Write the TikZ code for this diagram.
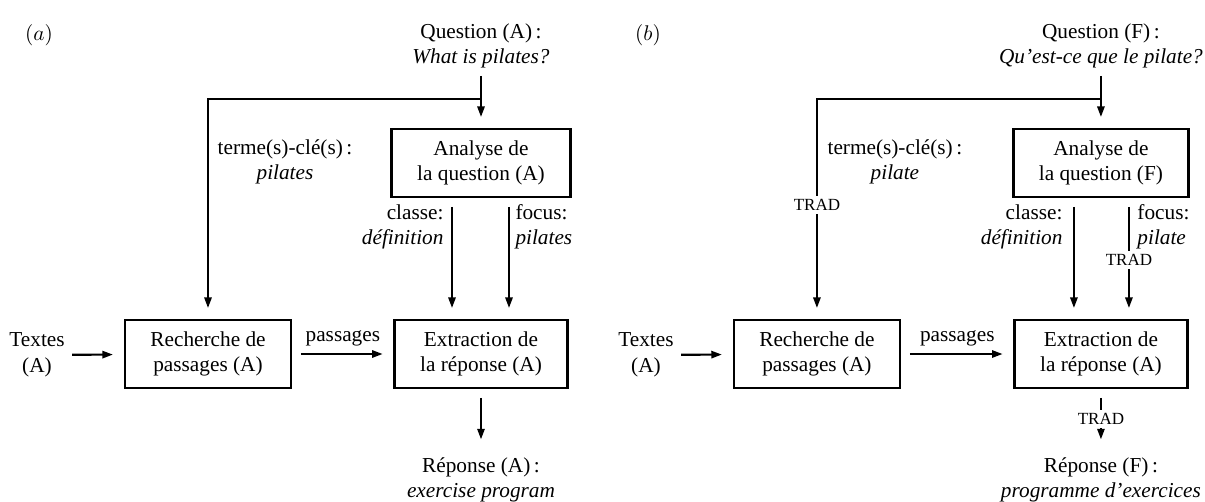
\documentclass[tikz,border=0pt]{standalone}
\usepackage{fontspec}
\setmainfont{Liberation Serif}
\usetikzlibrary{arrows.meta,calc}

\tikzset{
  box/.style={draw, line width=1.2pt, align=center, inner xsep=12pt, inner ysep=5pt, minimum height=32pt},
  lbl/.style={align=center},
  arr/.style={line width=1pt, -{Triangle[length=5pt,width=3.4pt]}, shorten >=5pt},
  ln/.style={line width=1pt},
  trad/.style={font=\footnotesize, inner sep=1.5pt},
}

\begin{document}
\begin{tikzpicture}[x=0.47pt, y=-0.47pt]
	\useasboundingbox (0,0) rectangle (1205,502);

	% (a) English question
	\node (la) at (39,35) {$(a)$};
	\node[lbl] (qa) at (481,46) {Question (A)\,:\\ \textit{What is pilates?}};
	\coordinate (ja) at (481,99);
	\node[box] (ana) at (481,163) {Analyse de\\la question (A)};
	\node[lbl] (ta) at (285,162) {terme(s)-clé(s)\,:\\ \textit{pilates}};
	\node[align=right, anchor=east] (ca) at (451,227) {classe:\\ \textit{définition}};
	\node[align=left, anchor=west] (fa) at (508,227) {focus:\\ \textit{pilates}};
	\node[lbl] (txa) at (37,355) {Textes\\(A)};
	\node[box] (rea) at (208,354) {Recherche de\\passages (A)};
	\node[box] (exa) at (481,354) {Extraction de\\la réponse (A)};
	\node[lbl] (rpa) at (481,480) {Réponse (A)\,:\\ \textit{exercise program}};
	\coordinate (cxa) at (452,0);
	\coordinate (fxa) at (509,0);

	\draw[arr] (qa) -- (ana);
	\draw[arr] (ja) -| (rea);
	\draw[arr, shorten <=4pt] (ana.south -| cxa) -- (exa.north -| cxa);
	\draw[arr, shorten <=4pt] (ana.south -| fxa) -- (exa.north -| fxa);
	\draw[arr] (txa) -- (rea);
	\draw[arr, shorten <=4pt] (rea) -- node[above] {passages} (exa);
	\draw[arr, shorten <=4pt] (exa) -- (rpa);

	% (b) French question, translated
	\begin{scope}[xshift=286.2pt]
	\node (lb) at (39,35) {$(b)$};
	\node[lbl] (qb) at (492,46) {Question (F)\,:\\ \textit{Qu'est-ce que le pilate?}};
	\coordinate (jb) at (492,99);
	\node[box] (anb) at (492,163) {Analyse de\\la question (F)};
	\node[lbl] (tb) at (286,162) {terme(s)-clé(s)\,:\\ \textit{pilate}};
	\node[align=right, anchor=east] (cb) at (461,227) {classe:\\ \textit{définition}};
	\node[align=left, anchor=west] (fb) at (521,227) {focus:\\ \textit{pilate}};
	\node[trad] (trk) at (208,205) {TRAD};
	\node[trad] (trf) at (520,260) {TRAD};
	\node[lbl] (txb) at (37,355) {Textes\\(A)};
	\node[box] (reb) at (208,354) {Recherche de\\passages (A)};
	\node[box] (exb) at (492,354) {Extraction de\\la réponse (A)};
	\node[trad] (trr) at (492,419) {TRAD};
	\node[lbl] (rpb) at (492,480) {Réponse (F)\,:\\ \textit{programme d'exercices}};
	\coordinate (cxb) at (465,0);

	\draw[arr] (qb) -- (anb);
	\draw[ln] (jb) -| (trk);
	\draw[arr] (trk) -- (reb);
	\draw[arr, shorten <=4pt] (anb.south -| cxb) -- (exb.north -| cxb);
	\draw[ln, shorten <=4pt] (anb.south -| trf) -- (trf);
	\draw[arr] (trf) -- (exb.north -| trf);
	\draw[arr] (txb) -- (reb);
	\draw[arr, shorten <=4pt] (reb) -- node[above] {passages} (exb);
	\draw[ln, shorten <=4pt] (exb) -- (trr);
	\draw[arr] (trr) -- (rpb);
	\end{scope}
\end{tikzpicture}
\end{document}
